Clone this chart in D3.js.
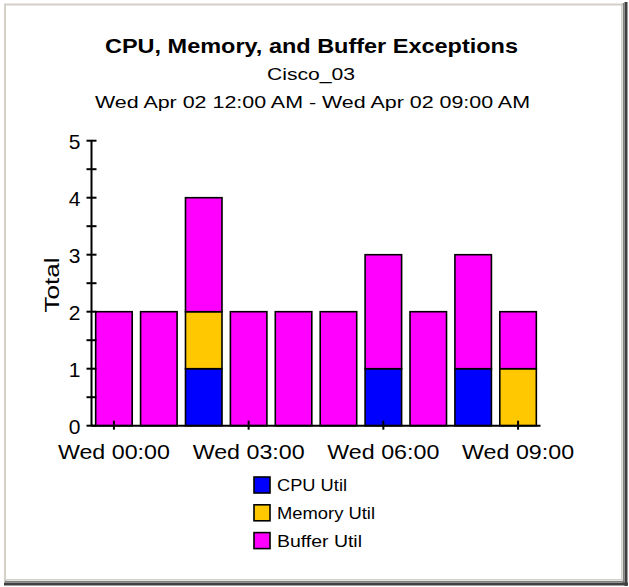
<!DOCTYPE html>
<html><head><meta charset="utf-8">
<script src="https://cdn.jsdelivr.net/npm/d3@7"></script>
<style>html,body{margin:0;padding:0;background:#fff;} svg{display:block;}</style>
</head><body>
<svg id="chart" width="629" height="587"></svg>
<script>
const hours = ["00:00","01:00","02:00","03:00","04:00","05:00","06:00","07:00","08:00","09:00"];
const cpuUtil    = [0,0,1,0,0,0,1,0,1,0];
const memoryUtil = [0,0,1,0,0,0,0,0,0,1];
const bufferUtil = [2,2,2,2,2,2,2,2,2,1];
const xTickHours = ["00:00","03:00","06:00","09:00"];
const yTicks = [0,1,2,3,4,5];
const seriesNames = ["CPU Util","Memory Util","Buffer Util"];
const seriesColors = ["#0000ff","#ffc800","#ff00ff"];
const legendWidths = [70, 98, 85];

const svg = d3.select("#chart");

// frame
svg.append("rect").attr("x",0).attr("y",0).attr("width",629).attr("height",587).attr("fill","#fff");
svg.append("line").attr("x1",4).attr("x2",624).attr("y1",4.5).attr("y2",4.5).attr("stroke","#d4d0c8").attr("stroke-width",2);
svg.append("line").attr("x1",5).attr("x2",5).attr("y1",4).attr("y2",582).attr("stroke","#d4d0c8").attr("stroke-width",2);
svg.append("line").attr("x1",5).attr("x2",622).attr("y1",579.5).attr("y2",579.5).attr("stroke","#d4d0c8").attr("stroke-width",1);
svg.append("line").attr("x1",621.5).attr("x2",621.5).attr("y1",5).attr("y2",580).attr("stroke","#d4d0c8").attr("stroke-width",1);
svg.append("line").attr("x1",623.5).attr("x2",623.5).attr("y1",3).attr("y2",583).attr("stroke","#808080").attr("stroke-width",1.5);
svg.append("line").attr("x1",626).attr("x2",626).attr("y1",2).attr("y2",586).attr("stroke","#404040").attr("stroke-width",3);
svg.append("line").attr("x1",5).attr("x2",624).attr("y1",581.5).attr("y2",581.5).attr("stroke","#808080").attr("stroke-width",1.5);
svg.append("line").attr("x1",4).attr("x2",628).attr("y1",584).attr("y2",584).attr("stroke","#404040").attr("stroke-width",3);

// titles
svg.append("text").attr("x",311.5).attr("y",53).attr("text-anchor","middle")
  .attr("font-family","Liberation Sans, Arial, sans-serif").attr("font-weight","bold").attr("font-size",21)
  .attr("textLength",413).attr("lengthAdjust","spacingAndGlyphs")
  .text("CPU, Memory, and Buffer Exceptions");
svg.append("text").attr("x",311).attr("y",80).attr("text-anchor","middle")
  .attr("font-family","Liberation Sans, Arial, sans-serif").attr("font-size",16)
  .attr("textLength",88).attr("lengthAdjust","spacingAndGlyphs").text("Cisco_03");
svg.append("text").attr("x",312.5).attr("y",108).attr("text-anchor","middle")
  .attr("font-family","Liberation Sans, Arial, sans-serif").attr("font-size",16)
  .attr("textLength",435).attr("lengthAdjust","spacingAndGlyphs").text("Wed Apr 02 12:00 AM - Wed Apr 02 09:00 AM");

// scales
const x = d3.scaleBand().domain(hours).range([91.5, 540.5]).paddingInner(0.187).paddingOuter(0.093);
const y = d3.scaleLinear().domain([0,5]).range([425.7, 140.7]);

// stacked data
const rows = hours.map((h,i)=>({hour:h, cpu:cpuUtil[i], mem:memoryUtil[i], buf:bufferUtil[i]}));
const stack = d3.stack().keys(["cpu","mem","buf"])(rows);

const g = svg.append("g");
stack.forEach((layer, li) => {
  g.selectAll(null).data(layer.filter(d => d[1] > d[0])).enter().append("rect")
    .attr("x", d => x(d.data.hour))
    .attr("width", x.bandwidth())
    .attr("y", d => y(d[1]))
    .attr("height", d => y(d[0]) - y(d[1]))
    .attr("fill", seriesColors[li])
    .attr("stroke", "#000").attr("stroke-width", 1.6);
});

// y axis
const yAxis = svg.append("g").attr("transform","translate(91.5,0)");
yAxis.append("line").attr("x1",0).attr("x2",0).attr("y1",y(5)).attr("y2",y(0)).attr("stroke","#000").attr("stroke-width",2);
const minor = d3.range(0, 5.01, 0.5);
yAxis.selectAll(".tk").data(minor).enter().append("line")
  .attr("x1",-5).attr("x2",5).attr("y1",d=>y(d)).attr("y2",d=>y(d)).attr("stroke","#000").attr("stroke-width",2);
yAxis.selectAll(".lb").data(yTicks).enter().append("text")
  .attr("x",-11).attr("y",d=>y(d)+8).attr("text-anchor","end")
  .attr("font-family","Liberation Sans, Arial, sans-serif").attr("font-size",21).attr("fill","#000")
  .text(d=>d);

svg.append("text").attr("transform","translate(59,285) rotate(-90)").attr("text-anchor","middle")
  .attr("font-family","Liberation Sans, Arial, sans-serif").attr("font-size",21)
  .attr("textLength",55).attr("lengthAdjust","spacingAndGlyphs").text("Total");

// x axis
const xAxis = svg.append("g");
xAxis.append("line").attr("x1",91.5).attr("x2",540.5).attr("y1",y(0)).attr("y2",y(0)).attr("stroke","#000").attr("stroke-width",2);
xAxis.selectAll(".xt").data(xTickHours).enter().append("line")
  .attr("x1",d=>x(d)+x.bandwidth()/2).attr("x2",d=>x(d)+x.bandwidth()/2)
  .attr("y1",y(0)-5).attr("y2",y(0)+4).attr("stroke","#000").attr("stroke-width",2);
xAxis.selectAll(".xl").data(xTickHours).enter().append("text")
  .attr("x",d=>x(d)+x.bandwidth()/2).attr("y",459).attr("text-anchor","middle")
  .attr("font-family","Liberation Sans, Arial, sans-serif").attr("font-size",21)
  .attr("textLength",112).attr("lengthAdjust","spacingAndGlyphs")
  .text(d=>"Wed " + d);

// legend
const leg = svg.append("g");
seriesNames.forEach((n,i)=>{
  const yy = 477 + i*27.8;
  leg.append("rect").attr("x",254).attr("y",yy).attr("width",16).attr("height",16)
    .attr("fill",seriesColors[i]).attr("stroke","#000").attr("stroke-width",1.6);
  leg.append("text").attr("x",277).attr("y",yy+14).attr("font-family","Liberation Sans, Arial, sans-serif")
    .attr("font-size",16).attr("textLength",legendWidths[i]).attr("lengthAdjust","spacingAndGlyphs").text(n);
});
</script>
</body></html>
